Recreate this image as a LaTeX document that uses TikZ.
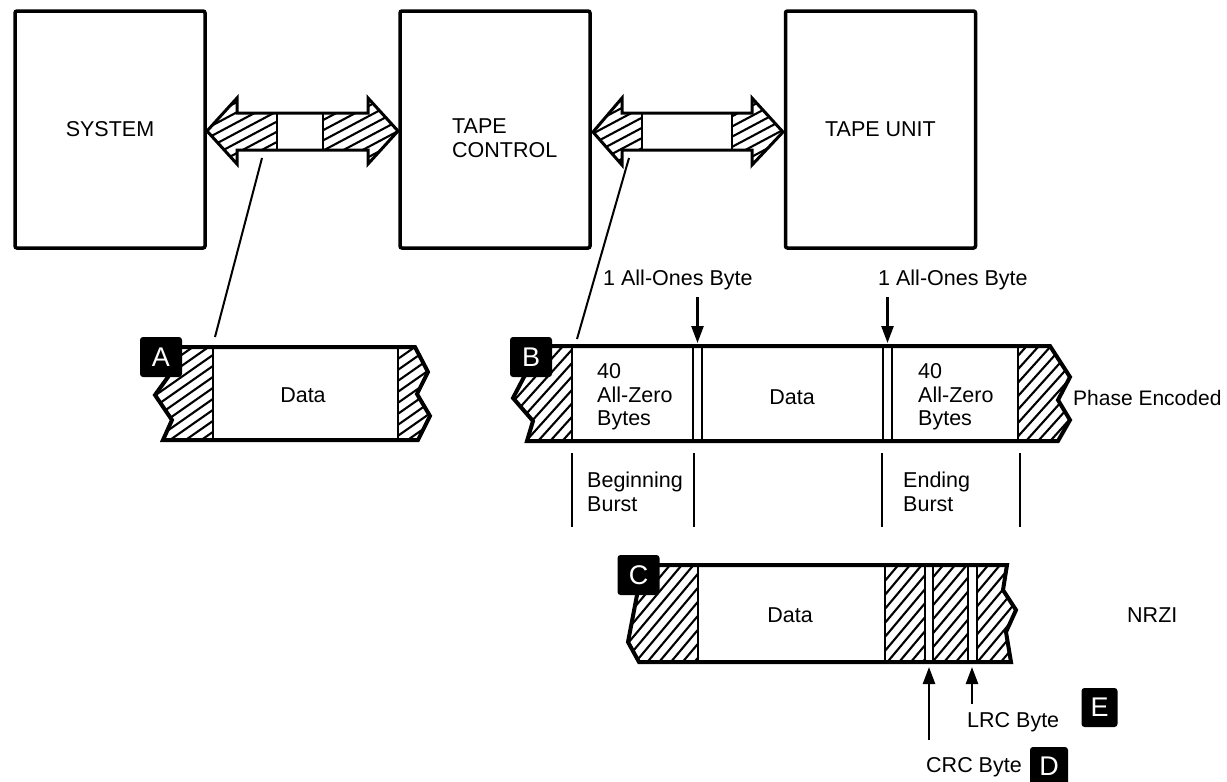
\documentclass[tikz,border=0pt]{standalone}
\usepackage{fontspec}
\setmainfont{Liberation Sans}
\usetikzlibrary{arrows.meta,calc}
\tikzset{
  unitbox/.style={draw,line width=3.5pt,rounded corners=2pt,minimum width=190pt,minimum height=237pt,inner sep=0pt},
  txt/.style={font=\fontsize{21.5}{23.5}\selectfont,inner sep=0pt},
  ltxt/.style={txt,anchor=west,align=left},
  tag/.style={fill=black,rounded corners=3pt,text=white,font=\fontsize{27}{28}\selectfont,inner sep=0pt,minimum width=42pt,minimum height=40pt},
  hl/.style={line width=2.1pt},
  outl/.style={line width=4pt,line join=miter},
  arrl/.style={line width=3pt,line join=miter},
  sepl/.style={line width=2.5pt},
  ptr/.style={line width=2.5pt,-{Triangle[length=17pt,width=12pt]}},
  tick/.style={line width=2.5pt},
}
\newcommand{\hatchfill}[3]{%
  \begin{scope}
    \clip #1;
    \foreach \k in {-22,...,22} \draw[hl,shift={#3},rotate=#2] (-220,\k*9) -- (220,\k*9);
  \end{scope}}
\begin{document}
\begin{tikzpicture}[x=1pt,y=-1pt]
\useasboundingbox (0,0) rectangle (1227,782);
% ---- unit boxes
\node[unitbox,txt] (sys) at (110,129.5) {SYSTEM};
\node[unitbox] (ctl) at (495,129.5) {};
\node[ltxt] (ctltext) at (452,138) {TAPE\\CONTROL};
\node[unitbox,txt] (unit) at (880.5,129.5) {TAPE UNIT};
% ---- double arrow 1
\fill[white] (207,131) -- (237,98) -- (237,113) -- (368,113) -- (368,98) -- (398,131) -- (368,164) -- (368,150) -- (237,150) -- (237,164) -- cycle;
\hatchfill{(207,131) -- (237,98) -- (237,113) -- (277,113) -- (277,150) -- (237,150) -- (237,164) -- cycle}{28}{(240,131)}
\hatchfill{(323,113) -- (368,113) -- (368,98) -- (398,131) -- (368,164) -- (368,150) -- (323,150) -- cycle}{28}{(360,131)}
\draw[sepl] (277,113) -- (277,150) (323,113) -- (323,150);
\draw[arrl] (207,131) -- (237,98) -- (237,113) -- (368,113) -- (368,98) -- (398,131) -- (368,164) -- (368,150) -- (237,150) -- (237,164) -- cycle;
\coordinate (a1) at (262,158);
% ---- double arrow 2
\fill[white] (593,132) -- (622,98) -- (622,113) -- (752,113) -- (752,98) -- (783,132) -- (752,165) -- (752,150) -- (622,150) -- (622,165) -- cycle;
\hatchfill{(593,132) -- (622,98) -- (622,113) -- (642,113) -- (642,150) -- (622,150) -- (622,165) -- cycle}{28}{(615,132)}
\hatchfill{(732,113) -- (752,113) -- (752,98) -- (783,132) -- (752,165) -- (752,150) -- (732,150) -- cycle}{28}{(760,132)}
\draw[sepl] (642,113) -- (642,150) (732,113) -- (732,150);
\draw[arrl] (593,132) -- (622,98) -- (622,113) -- (752,113) -- (752,98) -- (783,132) -- (752,165) -- (752,150) -- (622,150) -- (622,165) -- cycle;
\coordinate (a2) at (629,158);
% ---- tape A
\hatchfill{(178,347) -- (213,347) -- (213,440) -- (163,440) -- (172,420) -- (155,395) -- (168,377) -- cycle}{35}{(190,393)}
\hatchfill{(398,347) -- (415,347) -- (428,372) -- (417,394) -- (430,416) -- (418,440) -- (398,440) -- cycle}{35}{(412,393)}
\draw[sepl] (213,347) -- (213,440) (398,347) -- (398,440);
\draw[outl] (178,347) -- (415,347) -- (428,372) -- (417,394) -- (430,416) -- (418,440) -- (163,440) -- (172,420) -- (155,395) -- (168,377) -- cycle;
\node[txt] (dataA) at (303,395) {Data};
\coordinate (tA) at (215,337);
\node[tag] (tagA) at (161,357) {A};
% ---- tape B
\hatchfill{(548,346) -- (572,346) -- (572,441) -- (527,441) -- (533,421) -- (513,398) -- (524,377) -- cycle}{48}{(545,393)}
\hatchfill{(1018,346) -- (1050,346) -- (1070,377) -- (1058,400) -- (1070,420) -- (1058,441) -- (1018,441) -- cycle}{48}{(1045,393)}
\draw[sepl] (572,346) -- (572,441) (693,346) -- (693,441) (702,346) -- (702,441)
            (883,346) -- (883,441) (892,346) -- (892,441) (1018,346) -- (1018,441);
\draw[outl] (548,346) -- (1050,346) -- (1070,377) -- (1058,400) -- (1070,420) -- (1058,441) -- (527,441) -- (533,421) -- (513,398) -- (524,377) -- cycle;
\coordinate (tB) at (577,339);
\node[tag] (tagB) at (531,357) {B};
\node[ltxt] (zeroA) at (597,397) {40\\All-Zero\\Bytes};
\node[txt] (dataB) at (792,397) {Data};
\node[ltxt] (zeroB) at (918,397) {40\\All-Zero\\Bytes};
\node[ltxt,font=\fontsize{21}{23}\selectfont] (pe) at (1073,398) {Phase Encoded};
\node[ltxt] (ones1) at (603,280) {1 All-Ones Byte};
\node[ltxt] (ones2) at (878,280) {1 All-Ones Byte};
\coordinate (o1a) at (697.5,297); \coordinate (o1b) at (697.5,343);
\coordinate (o2a) at (887.5,297); \coordinate (o2b) at (887.5,343);
\draw[ptr] (o1a) -- (o1b);
\draw[ptr] (o2a) -- (o2b);
% bursts
\draw[tick] (572,453) -- (572,527) (694,453) -- (694,527) (882,453) -- (882,527) (1020,453) -- (1020,527);
\node[ltxt] (bb) at (587,492) {Beginning\\Burst};
\node[ltxt] (eb) at (903,492) {Ending\\Burst};
% ---- tape C
\hatchfill{(650,565) -- (698,565) -- (698,662) -- (639,662) -- (628,642) -- (637,595) -- cycle}{50}{(665,613)}
\hatchfill{(885,565) -- (925,565) -- (925,662) -- (885,662) -- cycle}{50}{(905,613)}
\hatchfill{(933,565) -- (968,565) -- (968,662) -- (933,662) -- cycle}{50}{(950,613)}
\hatchfill{(977,565) -- (1007,565) -- (1003,590) -- (1016,610) -- (1006,632) -- (1011,662) -- (977,662) -- cycle}{50}{(995,613)}
\draw[sepl] (698,565) -- (698,662) (885,565) -- (885,662) (925,565) -- (925,662) (933,565) -- (933,662) (968,565) -- (968,662) (977,565) -- (977,662);
\draw[outl] (650,565) -- (1007,565) -- (1003,590) -- (1016,610) -- (1006,632) -- (1011,662) -- (639,662) -- (628,642) -- (637,595) -- cycle;
\node[tag] (tagC) at (638.5,575) {C};
\node[txt] (dataC) at (790,615) {Data};
\node[ltxt] (nrzi) at (1127,615) {NRZI};
\coordinate (crcA) at (929,740); \coordinate (crcB) at (929,667);
\coordinate (lrcA) at (972,704); \coordinate (lrcB) at (972,667);
\draw[ptr] (crcA) -- (crcB);
\draw[ptr] (lrcA) -- (lrcB);
\node[ltxt] (lrc) at (967,722) {LRC Byte};
\node[ltxt] (crc) at (926,767) {CRC Byte};
\node[tag,minimum width=36pt,minimum height=39pt] (tagE) at (1099.5,707.5) {E};
\node[tag,minimum width=38pt,minimum height=38pt] (tagD) at (1049,766) {D};
% ---- leaders
\draw[line width=2pt] (a1) -- (tA);
\draw[line width=2pt] (a2) -- (tB);
\end{tikzpicture}
\end{document}
